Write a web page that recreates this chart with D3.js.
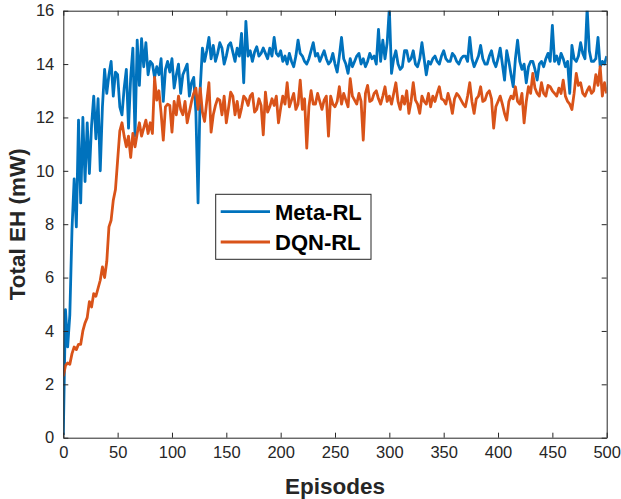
<!DOCTYPE html>
<html>
<head>
<meta charset="utf-8">
<script src="https://cdn.jsdelivr.net/npm/d3@7"></script>
<style>
  body { margin: 0; background: #fff; }
  text { font-family: "Liberation Sans", Arial, sans-serif; }
</style>
</head>
<body>
<div id="chart"></div>
<script>
// episodes sampled every 2
const episodes = d3.range(0, 501, 2);

const metaRL = [
  0.1, 4.8, 3.4, 4.6, 7.8, 9.7, 7.9, 11.9, 8.8, 12.0,
  9.6, 11.8, 9.9, 11.7, 12.8, 11.2, 12.7, 10.0, 12.4, 13.8,
  12.9, 13.6, 14.1, 12.8, 13.7, 13.6, 12.4, 12.1, 13.1, 13.8,
  11.6, 13.5, 14.6, 11.3, 14.9, 13.2, 14.95, 13.9, 14.8, 13.6,
  14.1, 14.0, 13.5, 13.9, 13.6, 14.2, 12.6, 13.8, 14.1, 13.7,
  14.2, 13.1, 13.6, 14.0, 12.9, 13.6, 13.8, 14.0, 12.8, 13.3,
  13.5, 12.2, 8.8, 13.1, 14.6, 14.1, 14.5, 15.0, 14.2, 14.7,
  14.1, 14.4, 14.8, 14.6, 14.0, 14.3, 14.7, 14.8, 14.45, 14.1,
  14.6, 14.3, 15.15, 13.3, 15.6, 14.3, 14.5, 14.1, 14.45, 14.65,
  14.3, 14.4, 14.6, 14.4, 14.2, 14.6, 14.3, 15.0, 14.4, 14.3,
  14.5, 14.1, 14.3, 14.0, 14.4, 14.1, 13.9, 14.3, 14.9, 14.4,
  14.3, 14.1, 14.0, 14.2, 14.5, 14.8, 14.3, 14.4, 14.1, 14.3,
  14.5, 14.2, 14.0, 14.1, 14.4, 14.0, 13.7, 14.3, 15.0, 14.2,
  14.0, 13.65, 14.2, 13.9, 14.1, 14.3, 14.4, 14.0, 14.2, 13.9,
  14.1, 14.4, 14.2, 14.3, 14.0, 15.3, 14.1, 14.9, 14.2, 14.8,
  16.1, 13.65, 14.2, 14.5, 14.0, 13.8, 13.9, 14.5, 14.5, 14.1,
  14.2, 14.5, 14.0, 13.9, 14.2, 14.8, 14.2, 13.6, 14.1, 14.0,
  14.2, 14.3, 14.1, 14.0, 14.3, 14.5, 14.2, 14.1, 14.1, 14.4,
  14.3, 14.1, 14.0, 14.2, 14.3, 14.3, 14.1, 15.0, 14.2, 13.9,
  14.1, 14.3, 14.7, 14.2, 14.0, 14.0, 14.3, 14.5, 14.1, 13.9,
  14.2, 14.6, 14.0, 13.4, 14.5, 14.1, 13.6, 13.15, 14.2, 14.9,
  14.1, 13.8, 14.0, 13.3, 13.9, 14.1, 14.1, 13.8, 13.4, 14.0,
  14.1, 13.9, 14.2, 14.4, 14.1, 15.45, 14.1, 14.3, 14.0, 14.4,
  14.2, 13.9, 14.1, 12.9, 14.7, 14.2, 14.1, 14.3, 14.8, 14.4,
  14.2, 16.1, 14.5, 14.1, 14.1, 14.2, 15.0, 13.9, 14.1, 14.0,
  14.3
];

const dqnRL = [
  2.3, 2.7, 2.8, 2.75, 3.15, 3.4, 3.3, 3.5, 3.5, 4.0,
  4.3, 4.5, 5.1, 4.9, 5.4, 5.3, 5.6, 5.9, 6.4, 6.0,
  6.6, 7.9, 8.15, 8.9, 9.3, 10.4, 11.5, 11.8, 11.3, 10.9,
  11.3, 10.5, 11.4, 10.9, 11.4, 11.8, 11.3, 11.6, 11.9, 11.4,
  11.8, 11.4, 13.5, 12.65, 13.0, 12.15, 11.15, 12.4, 12.5, 12.45,
  11.45, 12.6, 12.1, 12.8, 12.3, 12.1, 12.6, 11.8, 12.2, 12.6,
  12.9, 13.1, 12.3, 13.1, 12.2, 11.85, 12.6, 13.3, 11.45, 12.1,
  12.45, 12.7, 12.65, 12.1, 12.8, 11.8, 12.35, 12.95, 12.8, 12.1,
  12.6, 12.0, 12.35, 12.8, 12.7, 12.45, 12.8, 12.9, 12.2, 12.3,
  12.7, 12.45, 11.35, 12.95, 12.2, 12.4, 12.7, 12.45, 12.8, 11.8,
  12.35, 12.8, 12.5, 13.3, 12.4, 12.65, 12.9, 12.3, 12.5, 13.4,
  12.3, 12.7, 10.85, 12.4, 13.0, 12.5, 12.5, 12.9, 12.6, 12.3,
  12.65, 12.8, 11.3, 12.8, 12.5, 12.4, 12.6, 13.15, 12.5, 12.9,
  12.65, 12.4, 13.45, 12.8, 12.65, 12.5, 12.9, 12.6, 11.15, 12.9,
  13.2, 12.6, 12.65, 12.9, 13.0, 12.7, 12.5, 12.8, 13.15, 12.6,
  12.8, 12.5, 12.9, 13.3, 12.6, 12.3, 12.8, 12.5, 13.0, 12.15,
  12.6, 13.3, 12.65, 12.5, 12.15, 12.8, 12.6, 12.5, 12.9, 12.4,
  12.8, 12.6, 12.9, 13.15, 12.7, 12.65, 12.5, 12.9, 12.6, 12.15,
  12.7, 12.9, 12.8, 12.65, 12.5, 12.4, 12.8, 13.3, 12.6, 12.15,
  12.7, 12.8, 13.15, 12.6, 12.65, 12.9, 13.0, 12.7, 11.6, 12.4,
  12.6, 12.8, 12.5, 12.15, 11.9, 12.6, 12.8, 12.7, 13.15, 12.6,
  12.5, 12.9, 11.8, 12.6, 13.15, 12.9, 13.65, 13.1, 12.9, 12.8,
  13.3, 12.9, 12.8, 13.2, 13.15, 13.0, 12.9, 12.8, 13.1, 12.9,
  13.4, 12.8, 12.6, 12.5, 12.3, 12.9, 13.65, 13.2, 13.3, 12.9,
  12.8, 13.0, 13.15, 12.9, 13.0, 13.6, 13.2, 13.9, 12.8, 13.3,
  12.9
];

const seriesNames = ["Meta-RL", "DQN-RL"];
const seriesColors = ["#0072BD", "#D95319"];
const xTicks = [0, 50, 100, 150, 200, 250, 300, 350, 400, 450, 500];
const yTicks = [0, 2, 4, 6, 8, 10, 12, 14, 16];

const width = 621,
      height = 499,
      margin = {top: 10.7, right: 14.3, bottom: 61.3, left: 63.3};

const axisColor = "#262626";

let svg = d3.select("#chart")
    .append("svg")
    .attr("width", width)
    .attr("height", height);

let x = d3.scaleLinear().domain([0, 500]).range([margin.left, width - margin.right]);
let y = d3.scaleLinear().domain([0, 16]).range([height - margin.bottom, margin.top]);

svg.append("defs").append("clipPath")
    .attr("id", "plotclip")
  .append("rect")
    .attr("x", x(0))
    .attr("y", y(16))
    .attr("width", x(500) - x(0))
    .attr("height", y(0) - y(16));

// lines
let line = d3.line()
    .x((d, i) => x(episodes[i]))
    .y(d => y(d));

let plot = svg.append("g").attr("clip-path", "url(#plotclip)");

[metaRL, dqnRL].forEach((s, k) => {
  plot.append("path")
      .datum(s)
      .attr("d", line)
      .attr("fill", "none")
      .attr("stroke", seriesColors[k])
      .attr("stroke-width", 2.8)
      .attr("stroke-linejoin", "round");
});

// box + ticks on all sides, pointing inward
let bottomAxis = d3.axisBottom(x).tickValues(xTicks).tickSizeInner(-5).tickSizeOuter(0).tickPadding(9);
let topAxis = d3.axisTop(x).tickValues(xTicks).tickSizeInner(-5).tickSizeOuter(0).tickFormat("");
let leftAxis = d3.axisLeft(y).tickValues(yTicks).tickSizeInner(-5).tickSizeOuter(0).tickPadding(9);
let rightAxis = d3.axisRight(y).tickValues(yTicks).tickSizeInner(-5).tickSizeOuter(0).tickFormat("");

function styleAxis(g) {
  g.selectAll("path, line").attr("stroke", axisColor).attr("stroke-width", 1);
  g.selectAll("text")
    .attr("fill", axisColor)
    .style("font-size", "16.5px")
    .style("font-family", "'Liberation Sans', Arial, sans-serif");
}

svg.append("g").attr("transform", `translate(0,${y(0)})`).call(bottomAxis).call(styleAxis);
svg.append("g").attr("transform", `translate(0,${y(16)})`).call(topAxis).call(styleAxis);
svg.append("g").attr("transform", `translate(${x(0)},0)`).call(leftAxis).call(styleAxis);
svg.append("g").attr("transform", `translate(${x(500)},0)`).call(rightAxis).call(styleAxis);

// axis labels
svg.append("text")
    .attr("x", (x(0) + x(500)) / 2)
    .attr("y", 494)
    .attr("text-anchor", "middle")
    .style("font-size", "22.5px")
    .style("font-weight", "bold")
    .attr("fill", axisColor)
    .text("Episodes");

svg.append("text")
    .attr("transform", `translate(25,${(y(0) + y(16)) / 2}) rotate(-90)`)
    .attr("text-anchor", "middle")
    .style("font-size", "22.5px")
    .style("font-weight", "bold")
    .attr("fill", axisColor)
    .text("Total EH (mW)");

// legend
let legend = svg.append("g");
legend.append("rect")
    .attr("x", 215.7)
    .attr("y", 194.3)
    .attr("width", 155.3)
    .attr("height", 65)
    .attr("fill", "#fff")
    .attr("stroke", axisColor)
    .attr("stroke-width", 1);

seriesNames.forEach((name, i) => {
  let ly = 211.7 + i * 30.3;
  legend.append("line")
      .attr("x1", 220.7).attr("x2", 270)
      .attr("y1", ly).attr("y2", ly)
      .attr("stroke", seriesColors[i])
      .attr("stroke-width", 2.8);
  legend.append("text")
      .attr("x", 275)
      .attr("y", ly + 8)
      .style("font-size", "22px")
      .style("font-weight", "bold")
      .attr("fill", "#000")
      .text(name);
});
</script>
</body>
</html>
